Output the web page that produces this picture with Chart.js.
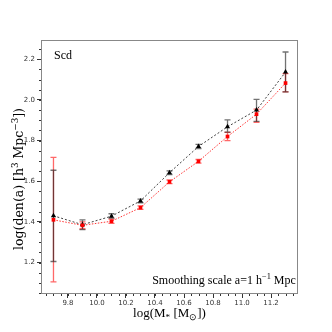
<!DOCTYPE html>
<html>
<head>
<meta charset="utf-8">
<style>html,body{margin:0;padding:0;background:#fff}</style>
<script src="https://cdn.jsdelivr.net/npm/chart.js@4/dist/chart.umd.min.js"></script>
</head>
<body>
<canvas id="c" width="332" height="332"></canvas>
<script>
// stellar mass bins, log(M*)
const massBins = [9.7, 9.9, 10.1, 10.3, 10.5, 10.7, 10.9, 11.1, 11.3];

// black triangles
const blackVals = [1.43, 1.386, 1.428, 1.503, 1.642, 1.771, 1.868, 1.95, 2.137];
const blackLo   = [1.205, 1.362, 1.418, 1.494, 1.633, 1.761, 1.842, 1.895, 2.04];
const blackHi   = [1.654, 1.41, 1.44, 1.512, 1.651, 1.781, 1.902, 2.003, 2.236];

// red squares
const redVals = [1.41, 1.383, 1.403, 1.47, 1.597, 1.698, 1.82, 1.93, 2.083];
const redLo   = [1.105, 1.366, 1.393, 1.461, 1.588, 1.689, 1.80, 1.89, 2.04];
const redHi   = [1.717, 1.40, 1.413, 1.479, 1.606, 1.707, 1.84, 1.955, 2.13];

const xTicks = [9.8, 10.0, 10.2, 10.4, 10.6, 10.8, 11.0, 11.2];
const yTicks = [1.2, 1.4, 1.6, 1.8, 2.0, 2.2];

const toPoints = vals => vals.map((v, i) => ({ x: massBins[i], y: v }));

// draws [text, 'n'|'sub'|'sup'] pieces centred at (0,0)
function richText(ctx, parts, size, family) {
  const fontOf = k => (k === 'n' ? size : size * 0.7) + 'px ' + family;
  let total = 0;
  parts.forEach(([t, k]) => { ctx.font = fontOf(k); total += ctx.measureText(t).width; });
  let cx = -total / 2;
  ctx.textAlign = 'left';
  parts.forEach(([t, k]) => {
    ctx.font = fontOf(k);
    const dy = k === 'sub' ? size * 0.22 : k === 'sup' ? -size * 0.38 : 0;
    ctx.fillText(t, cx, dy);
    cx += ctx.measureText(t).width;
  });
}

function drawBars(ctx, x, y, lo, hi, color, width) {
  ctx.save();
  ctx.lineWidth = width;
  ctx.setLineDash([]);
  ctx.strokeStyle = color;
  massBins.forEach((m, i) => {
    const px = x.getPixelForValue(m);
    const top = y.getPixelForValue(hi[i]);
    const bot = y.getPixelForValue(lo[i]);
    ctx.beginPath();
    ctx.moveTo(px, top); ctx.lineTo(px, bot);
    ctx.moveTo(px - 3, top); ctx.lineTo(px + 3, top);
    ctx.moveTo(px - 3, bot); ctx.lineTo(px + 3, bot);
    ctx.stroke();
  });
  ctx.restore();
}

// error bars, frame, minor ticks and texts
const extras = {
  id: 'extras',
  beforeDatasetsDraw(chart) {
    const { ctx, scales: { x, y } } = chart;
    drawBars(ctx, x, y, redLo, redHi, 'rgba(255,40,40,0.7)', 1.3);
    drawBars(ctx, x, y, blackLo, blackHi, 'rgba(20,20,20,0.6)', 1.3);
  },
  afterDraw(chart) {
    const { ctx, chartArea: a, scales: { x, y } } = chart;
    ctx.save();
    // frame
    ctx.strokeStyle = '#888';
    ctx.lineWidth = 1;
    ctx.strokeRect(a.left + 0.5, a.top + 0.5, a.right - a.left - 1, a.bottom - a.top - 1);

    // minor ticks every 0.05
    ctx.strokeStyle = '#333';
    ctx.beginPath();
    for (let v = 9.65; v < x.max; v += 0.05) {
      const px = Math.round(x.getPixelForValue(v)) + 0.5;
      ctx.moveTo(px, a.bottom); ctx.lineTo(px, a.bottom + 2);
    }
    for (let v = 1.05; v < y.max; v += 0.05) {
      const py = Math.round(y.getPixelForValue(v)) + 0.5;
      ctx.moveTo(a.left, py); ctx.lineTo(a.left - 2, py);
    }
    ctx.stroke();

    // texts
    ctx.fillStyle = '#000';
    ctx.textBaseline = 'alphabetic';
    ctx.font = '12px "Liberation Serif"';
    ctx.textAlign = 'left';
    ctx.fillText('Scd', 54, 59);

    ctx.save();
    ctx.translate(224, 284);
    richText(ctx, [['Smoothing scale a=1 h', 'n'], ['\u22121', 'sup'], [' Mpc', 'n']], 12, '"Liberation Serif"');
    ctx.restore();

    ctx.save();
    ctx.translate((a.left + a.right) / 2, 317);
    richText(ctx, [['log(M', 'n'], ['*', 'sub'], [' [M', 'n'], ['\u2299', 'sub'], ['])', 'n']], 13, '"Liberation Serif"');
    ctx.restore();

    ctx.save();
    ctx.translate(23, 179);
    ctx.rotate(-Math.PI / 2);
    richText(ctx, [['log(den(a) [h', 'n'], ['3', 'sup'], [' Mpc', 'n'], ['\u22123', 'sup'], ['])', 'n']], 12.5, '"DejaVu Serif"');
    ctx.restore();
    ctx.restore();
  }
};

const tickFont = { family: 'DejaVu Sans', size: 7 };

new Chart(document.getElementById('c'), {
  type: 'line',
  data: {
    datasets: [
      {
        data: toPoints(blackVals),
        borderColor: '#111',
        backgroundColor: '#000',
        borderWidth: 0.8,
        borderDash: [2, 2],
        pointStyle: 'triangle',
        pointRadius: 3,
        pointBorderWidth: 0,
        order: 1
      },
      {
        data: toPoints(redVals),
        borderColor: '#f00',
        backgroundColor: '#f00',
        borderWidth: 0.8,
        borderDash: [1.5, 1.5],
        pointStyle: 'rect',
        pointRadius: 2.6,
        pointBorderWidth: 0,
        order: 0
      }
    ]
  },
  options: {
    responsive: false,
    animation: false,
    layout: { padding: { left: 0, right: 34, top: 40, bottom: 0 } },
    plugins: { legend: { display: false }, tooltip: { enabled: false } },
    scales: {
      x: {
        type: 'linear',
        min: 9.614,
        max: 11.386,
        afterBuildTicks: s => { s.ticks = xTicks.map(v => ({ value: v })); },
        afterFit: s => { s.height = 38; },
        grid: { drawOnChartArea: false, drawTicks: true, tickLength: 4, color: '#333' },
        border: { display: false },
        ticks: { font: tickFont, color: '#333', padding: 1, maxRotation: 0, callback: v => v.toFixed(1) }
      },
      y: {
        min: 1.045,
        max: 2.295,
        afterBuildTicks: s => { s.ticks = yTicks.map(v => ({ value: v })); },
        afterFit: s => { s.width = 41; },
        grid: { drawOnChartArea: false, drawTicks: true, tickLength: 4, color: '#333' },
        border: { display: false },
        ticks: { font: tickFont, color: '#333', padding: 2, callback: v => v.toFixed(1) }
      }
    }
  },
  plugins: [extras]
});
</script>
</body>
</html>
